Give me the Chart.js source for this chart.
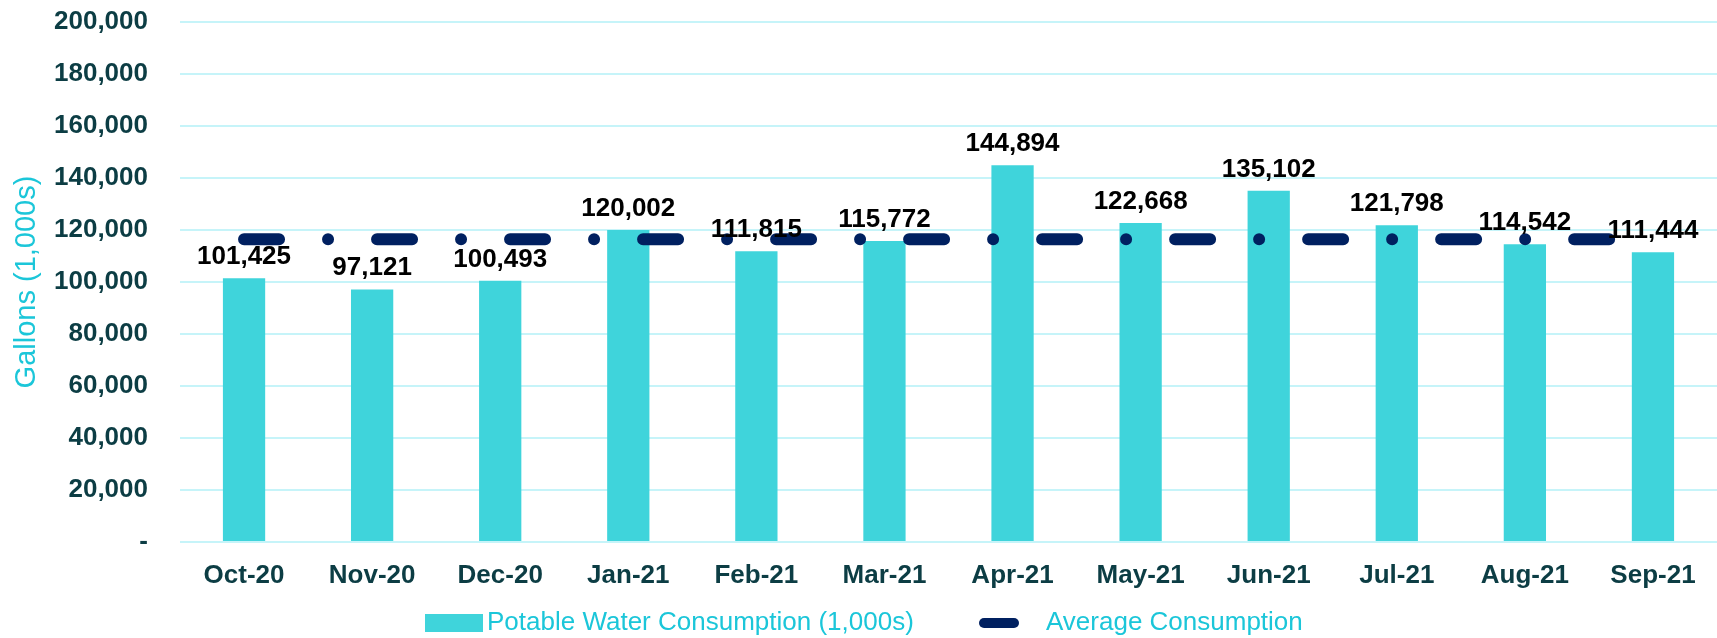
<!DOCTYPE html>
<html>
<head>
<meta charset="utf-8">
<script src="https://cdn.jsdelivr.net/npm/chart.js@4.4.1/dist/chart.umd.min.js"></script>
<style>
  html, body { margin: 0; padding: 0; background: #ffffff; }
  #wrap { width: 1717px; height: 638px; position: relative; }
</style>
</head>
<body>
<div id="wrap"><canvas id="c" width="1717" height="638"></canvas></div>
<script>
// ---- data ----
const categories = ['Oct-20','Nov-20','Dec-20','Jan-21','Feb-21','Mar-21','Apr-21','May-21','Jun-21','Jul-21','Aug-21','Sep-21'];
const consumption = [101425, 97121, 100493, 120002, 111815, 115772, 144894, 122668, 135102, 121798, 114542, 111444];
const averageConsumption = [116423, 116423, 116423, 116423, 116423, 116423, 116423, 116423, 116423, 116423, 116423, 116423];
const yTicks = [0, 20000, 40000, 60000, 80000, 100000, 120000, 140000, 160000, 180000, 200000];
const seriesNames = ['Potable Water Consumption (1,000s)', 'Average Consumption'];
const yTitle = 'Gallons (1,000s)';

// ---- styles ----
const FONT = "'Liberation Sans', Arial, sans-serif";
const BAR = '#3FD4DB';
const NAVY = '#002060';
const CYAN_TEXT = '#1BC6D9';
const TICK = '#0C3D44';
const GRID = '#C6F4F9';

const labelPlugin = {
  id: 'barLabels',
  afterDatasetsDraw(chart) {
    const meta = chart.getDatasetMeta(1);
    const ctx = chart.ctx;
    ctx.save();
    ctx.font = 'bold 26px ' + FONT;
    ctx.fillStyle = '#000000';
    ctx.textAlign = 'center';
    ctx.textBaseline = 'alphabetic';
    meta.data.forEach((el, i) => {
      ctx.fillText(consumption[i].toLocaleString('en-US'), el.x, el.y - 14);
    });
    ctx.restore();
  }
};

const legendPlugin = {
  id: 'customLegend',
  afterDraw(chart) {
    const ctx = chart.ctx;
    ctx.save();
    const cy = 623;
    ctx.fillStyle = BAR;
    ctx.fillRect(425, 614, 58, 18);
    ctx.font = '26px ' + FONT;
    ctx.fillStyle = CYAN_TEXT;
    ctx.textBaseline = 'middle';
    ctx.textAlign = 'left';
    ctx.fillText(seriesNames[0], 487, cy);
    ctx.strokeStyle = NAVY;
    ctx.lineWidth = 10;
    ctx.lineCap = 'round';
    ctx.beginPath();
    ctx.moveTo(984, cy);
    ctx.lineTo(1014, cy);
    ctx.stroke();
    ctx.fillText(seriesNames[1], 1046, cy);
    ctx.restore();
  }
};

new Chart(document.getElementById('c'), {
  type: 'bar',
  data: {
    labels: categories,
    datasets: [
      {
        type: 'line',
        label: seriesNames[1],
        data: averageConsumption,
        borderColor: NAVY,
        backgroundColor: NAVY,
        borderWidth: 12,
        borderCapStyle: 'round',
        borderDash: [35, 49, 0.01, 49],
        pointRadius: 0,
        pointHoverRadius: 0,
        fill: false,
        tension: 0,
        order: 0
      },
      {
        type: 'bar',
        label: seriesNames[0],
        data: consumption,
        backgroundColor: BAR,
        borderWidth: 0,
        categoryPercentage: 1,
        barPercentage: 0.33,
        order: 1
      }
    ]
  },
  options: {
    responsive: false,
    animation: false,
    devicePixelRatio: 1,
    layout: { padding: { top: 22, right: 0, bottom: 0, left: 0 } },
    plugins: {
      legend: { display: false },
      tooltip: { enabled: false },
      title: { display: false }
    },
    scales: {
      x: {
        grid: { display: false, drawTicks: false },
        border: { display: false },
        ticks: {
          color: TICK,
          font: { family: FONT, size: 26, weight: 'bold' },
          padding: 18,
          maxRotation: 0,
          autoSkip: false
        },
        afterFit(scale) { scale.height = 96; }
      },
      y: {
        min: 0,
        max: 200000,
        afterBuildTicks(scale) { scale.ticks = yTicks.map(v => ({ value: v })); },
        grid: { color: GRID, lineWidth: 2, drawTicks: true, tickLength: 32, tickColor: 'rgba(0,0,0,0)' },
        border: { display: false },
        ticks: {
          color: TICK,
          font: { family: FONT, size: 26, weight: 'bold' },
          padding: 0,
          callback: (v) => v === 0 ? '-' : Number(v).toLocaleString('en-US')
        },
        title: {
          display: true,
          text: yTitle,
          color: CYAN_TEXT,
          font: { family: FONT, size: 29, weight: 'normal' },
          padding: { top: 10, bottom: 0 }
        },
        afterFit(scale) { scale.width = 180; }
      }
    }
  },
  plugins: [labelPlugin, legendPlugin]
});
</script>
</body>
</html>
